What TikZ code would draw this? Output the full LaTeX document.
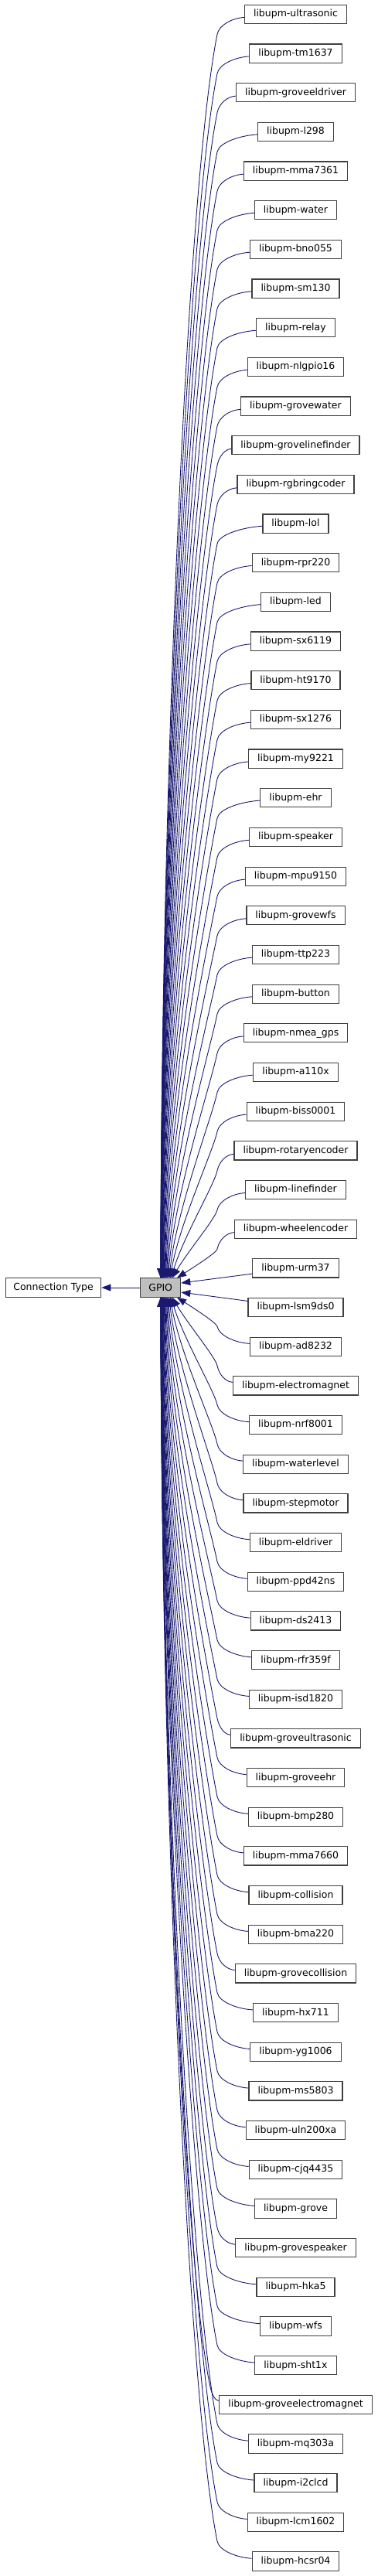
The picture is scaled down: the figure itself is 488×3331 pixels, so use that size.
\documentclass[tikz,border=0pt]{standalone}
\usepackage{fontspec}
\setmainfont{DejaVu Sans}
\usetikzlibrary{arrows.meta,calc}
\definecolor{edgeblue}{HTML}{191970}
\definecolor{boxline}{HTML}{404040}
\definecolor{gpiofill}{HTML}{BFBFBF}
\begin{document}
\begin{tikzpicture}[x=1pt,y=1pt,
  box/.style={draw=boxline,line width=1.1pt,fill=white,inner ysep=0pt,minimum height=24.2pt,font=\fontsize{12.5}{15}\selectfont},
  lib/.style={box,inner xsep=11.5pt},
  edge/.style={draw=edgeblue,line width=0.9pt,-{Triangle[length=12pt,width=9pt]}}]
\useasboundingbox (0,0) rectangle (488,-3331);
\node[box,inner xsep=10.1pt] (conn) at (69,-1665) {Connection Type};
\node[box,inner xsep=10.6pt,fill=gpiofill] (gpio) at (207.7,-1665) {GPIO};
\foreach \name [count=\c from 0] in {ultrasonic,tm1637,groveeldriver,l298,mma7361,water,bno055,sm130,relay,nlgpio16,grovewater,grovelinefinder,rgbringcoder,lol,rpr220,led,sx6119,ht9170,sx1276,my9221,ehr,speaker,mpu9150,grovewfs,ttp223,button,nmea\_gps,a110x,biss0001,rotaryencoder,linefinder,wheelencoder,urm37,lsm9ds0,ad8232,electromagnet,nrf8001,waterlevel,stepmotor,eldriver,ppd42ns,ds2413,rfr359f,isd1820,groveultrasonic,groveehr,bmp280,mma7660,collision,bma220,grovecollision,hx711,yg1006,ms5803,uln200xa,cjq4435,grove,grovespeaker,hka5,wfs,sht1x,groveelectromagnet,mq303a,i2clcd,lcm1602,hcsr04} {
  \node[lib] (n\c) at (382.5,{-(18.4+50.67*\c)}) {libupm-\name};
}
\draw[edge] (gpio) -- (conn);
% upper connectors
\foreach \c in {0,...,31} {
  \ifnum\c=31 \def\tx{229}\else\pgfmathsetmacro{\tx}{208+15*(\c/30)^3}\fi
  \draw[edge] let \p1=(n\c.west), \p2=(gpio.north), \n1={min(281,\x1-12)}, \n2={\y1-26}, \n3={\n2-\y2}, \n4={0.125*\n3}, \n5={\tx+(\n1-\tx)*0.5*exp(-\n3/200)} in
   (n\c) .. controls ({\x1-0.45*(\x1-\n1)},\y1-5) and (\n1+2.4,\n2+12) .. (\n1,\n2)
   .. controls (\n1-0.2*\n4,\n2-\n4) and (\n5,\y2+0.37*\n3) .. (\tx,\y2);
}
% lower connectors
\foreach \c in {34,...,65} {
  \pgfmathtruncatemacro{\m}{65-\c}
  \ifnum\m=31 \def\tx{229}\else\pgfmathsetmacro{\tx}{208+15*(\m/30)^3}\fi
  \draw[edge] let \p1=(n\c.west), \p2=(gpio.south), \n1={min(281,\x1-12)}, \n2={\y1+26}, \n3={\y2-\n2}, \n4={0.125*\n3}, \n5={\tx+(\n1-\tx)*0.5*exp(-\n3/200)} in
   (n\c) .. controls ({\x1-0.45*(\x1-\n1)},\y1+5) and (\n1+2.4,\n2-12) .. (\n1,\n2)
   .. controls (\n1-0.2*\n4,\n2+\n4) and (\n5,\y2-0.37*\n3) .. (\tx,\y2);
}
\draw[edge] (n32) -- ($(gpio.east)+(0,6)$);
\draw[edge] (n33) -- ($(gpio.east)+(0,-6)$);
\end{tikzpicture}
\end{document}
